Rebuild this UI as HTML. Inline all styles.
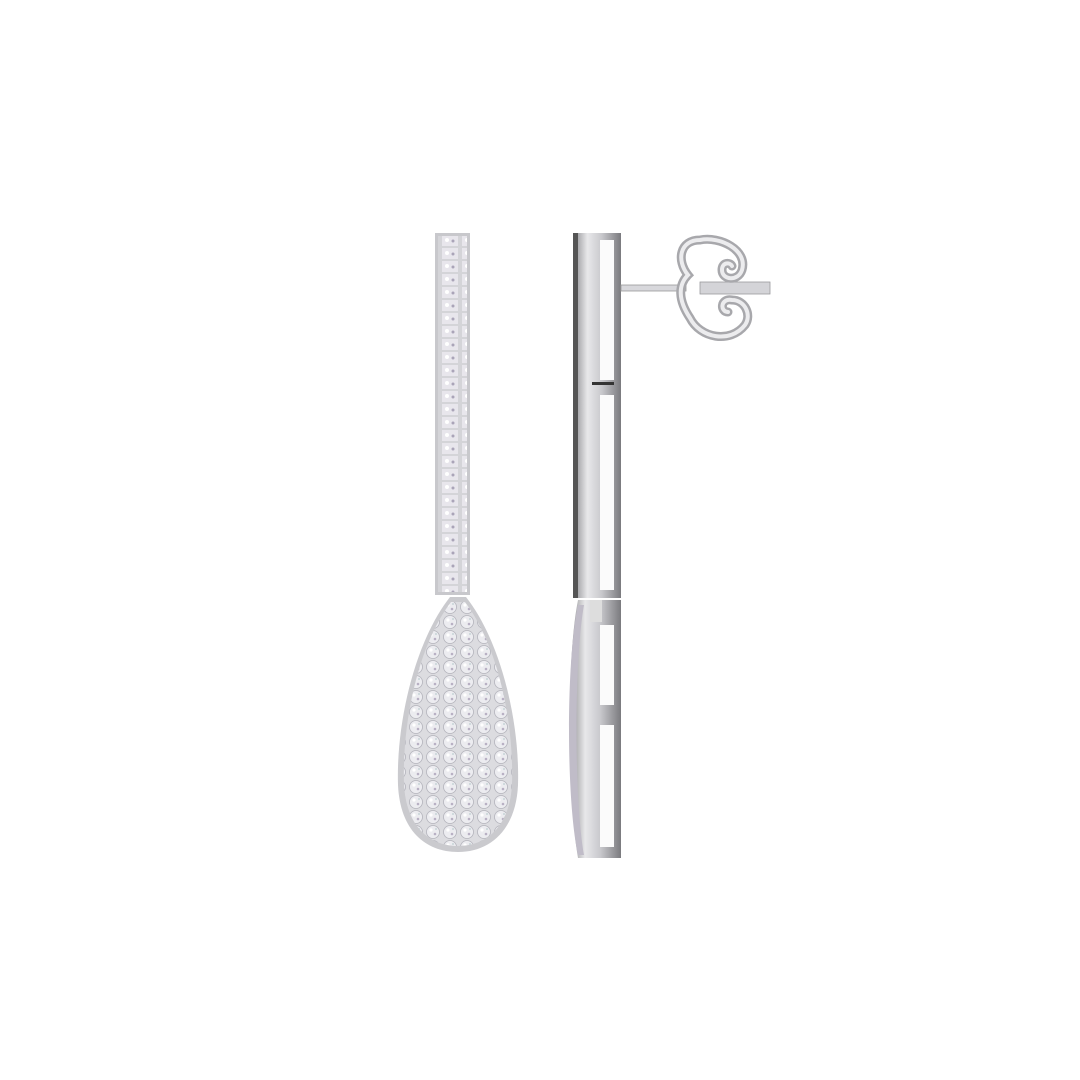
<!DOCTYPE html>
<html><head><style>html,body{margin:0;padding:0;background:#fff;width:1080px;height:1080px;overflow:hidden}</style></head>
<body>
<svg width="1080" height="1080" viewBox="0 0 1080 1080" xmlns="http://www.w3.org/2000/svg">
<defs>
<pattern id="pave" width="17" height="15" patternUnits="userSpaceOnUse">
<rect width="17" height="15" fill="#dcdce0"/>
<circle cx="8" cy="7" r="6.5" fill="#ececf0" stroke="#b4b4bc" stroke-width="0.8"/>
<circle cx="6" cy="5" r="1.6" fill="#fff"/>
<circle cx="10" cy="9" r="1.3" fill="#b8b0c4"/>
<circle cx="11" cy="4" r="1" fill="#c8d4d8"/>
</pattern>
<pattern id="bar" width="20" height="13" patternUnits="userSpaceOnUse">
<rect width="20" height="13" fill="#d4d4d8"/>
<rect x="2" y="1" width="16" height="11" fill="#e8e6ec"/>
<circle cx="7" cy="6" r="2" fill="#fff"/>
<circle cx="13" cy="7" r="1.5" fill="#aaa4b8"/>
</pattern>
<linearGradient id="metal" x1="0" x2="1">
<stop offset="0" stop-color="#8a8a8e"/><stop offset="0.3" stop-color="#e8e8ea"/><stop offset="0.6" stop-color="#c8c8cc"/><stop offset="1" stop-color="#7a7a7e"/>
</linearGradient>
</defs>
<rect x="435" y="233" width="35" height="362" fill="#c8c8cc"/>
<rect x="438" y="236" width="29" height="356" fill="url(#bar)"/>
<path d="M450 597 L466 597 C500 640 520 720 518 785 C516 830 490 852 458 852 C425 852 400 830 398 785 C396 720 416 640 450 597 Z" fill="#cacace"/>
<path d="M451 602 L465 602 C497 644 514 720 512 784 C510 826 487 846 458 846 C429 846 406 826 404 784 C402 720 419 644 451 602 Z" fill="url(#pave)"/>
<rect x="573" y="233" width="48" height="365" fill="url(#metal)"/>
<rect x="573" y="233" width="5" height="365" fill="#555"/>
<rect x="600" y="240" width="14" height="140" fill="#fbfbfb"/>
<rect x="600" y="395" width="14" height="195" fill="#fbfbfb"/>
<rect x="592" y="382" width="22" height="3" fill="#333"/>
<path d="M578 600 L621 600 L621 858 L578 858 C568 800 566 660 578 600 Z" fill="url(#metal)"/>
<path d="M578 605 C566 660 566 800 578 855 L584 855 C574 800 574 660 584 605 Z" fill="#c0bcc8"/>
<rect x="600" y="625" width="14" height="80" fill="#fbfbfb"/>
<rect x="600" y="725" width="14" height="122" fill="#fbfbfb"/>
<rect x="590" y="600" width="12" height="22" fill="#ddd"/>
<rect x="621" y="285" width="65" height="6" fill="#d8d8dc" stroke="#999" stroke-width="0.8"/>
<rect x="700" y="282" width="70" height="12" fill="#d4d4d8" stroke="#9a9a9e" stroke-width="0.8"/>
<path d="M700 240 C680 240 676 260 688 275 C678 285 678 300 690 318 C700 338 730 344 745 325 C752 315 745 300 732 300 C720 298 720 312 728 312 M700 240 C720 236 748 250 742 270 C738 282 722 280 722 270 C722 262 730 262 732 266" fill="none" stroke="#a8a8ac" stroke-width="9" stroke-linecap="round"/>
<path d="M700 240 C680 240 676 260 688 275 C678 285 678 300 690 318 C700 338 730 344 745 325 C752 315 745 300 732 300 C720 298 720 312 728 312 M700 240 C720 236 748 250 742 270 C738 282 722 280 722 270 C722 262 730 262 732 266" fill="none" stroke="#ececee" stroke-width="4" stroke-linecap="round"/>
</svg>
</body></html>
